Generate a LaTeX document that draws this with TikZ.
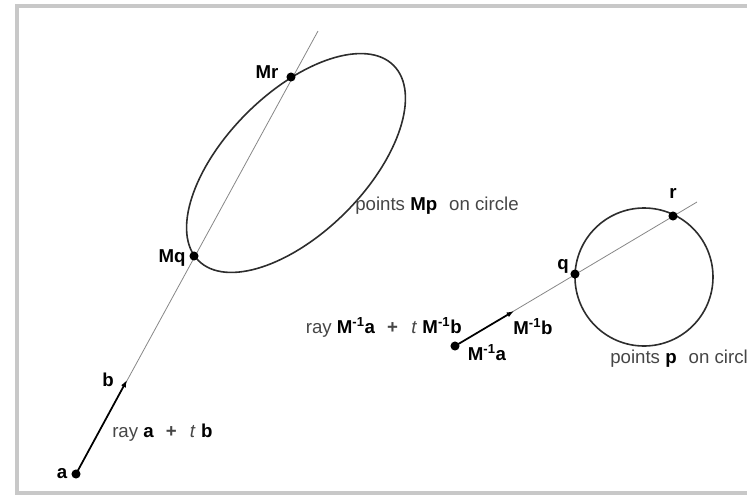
\documentclass[tikz,border=0pt]{standalone}
\usepackage{fontspec}
\setmainfont{Liberation Sans}
\usetikzlibrary{arrows.meta}
\definecolor{framegray}{RGB}{200,200,200}
\definecolor{raygray}{RGB}{135,135,135}
\definecolor{curvegray}{RGB}{45,45,45}
\definecolor{textgray}{RGB}{70,70,70}
\newcommand{\Minv}{\textbf{M}\textsuperscript{\textbf{-1}}}

\begin{document}
\begin{tikzpicture}[x=0.75pt, y=-0.75pt,
    dot/.style={circle, fill=black, inner sep=0pt, minimum size=6.8pt},
    lbl/.style={font=\fontsize{14}{16}\selectfont\bfseries, text=black, inner sep=0pt},
    txt/.style={font=\fontsize{14}{16}\selectfont, text=textgray, inner sep=0pt},
    ray/.style={raygray, line width=0.6pt},
    vec/.style={-{Latex[length=5.5pt,width=4pt]}, line width=1.3pt, black},
    curve/.style={curvegray, line width=1.2pt}
]
\useasboundingbox (0,0) rectangle (747,497);
\clip (0,0) rectangle (747,497);
\draw[framegray, line width=2.5pt] (17,6) rectangle (790,493);

\coordinate (ell) at (296,163);
\coordinate (cir) at (644,277);
\coordinate (a) at (76,474);
\coordinate (b) at (127,380);
\coordinate (aend) at (318,31);
\coordinate (Mq) at (194,256);
\coordinate (Mr) at (291,77);
\coordinate (Mia) at (455,346);
\coordinate (Mib) at (514,311);
\coordinate (Miend) at (697,202);
\coordinate (q) at (575,274);
\coordinate (r) at (673,216);

\draw[ray] (a) -- (aend);
\draw[ray] (Mia) -- (Miend);
\draw[curve, rotate around={45:(ell)}] (ell) ellipse [x radius=138, y radius=70];
\draw[curve] (cir) circle [radius=69];
\draw[vec] (a) -- (b);
\draw[vec] (Mia) -- (Mib);

\foreach \p in {a, Mq, Mr, Mia, q, r}
    \node[dot] (dot-\p) at (\p) {};

\node[lbl] (la) at (62,474) {a};
\node[lbl] (lb) at (108,380) {b};
\node[lbl] (lMq) at (172,258) {Mq};
\node[lbl] (lMr) at (267,72) {Mr};
\node[lbl] (lq) at (563,266) {q};
\node[lbl] (lr) at (673,193) {r};
\node[lbl] (lMia) at (487,353) {\Minv a};
\node[lbl] (lMib) at (533,327) {\Minv b};

\node[txt, anchor=west] (mp) at (355,206) {points \textbf{\color{black}Mp}\hspace{9pt}on circle};
\node[txt, anchor=west] (pp) at (610,359) {points \textbf{\color{black}p}\hspace{9pt}on circle};
\node[txt, anchor=west] (raya) at (112,433) {ray \textbf{\color{black}a}\hspace{9pt}\textbf{+}\hspace{10pt}\textit{t} \textbf{\color{black}b}};
\node[txt, anchor=east] (rayM) at (462,327) {ray {\color{black}\Minv\textbf{a}}\hspace{9pt}\textbf{+}\hspace{10pt}\textit{t} {\color{black}\Minv\textbf{b}}};
\end{tikzpicture}
\end{document}
